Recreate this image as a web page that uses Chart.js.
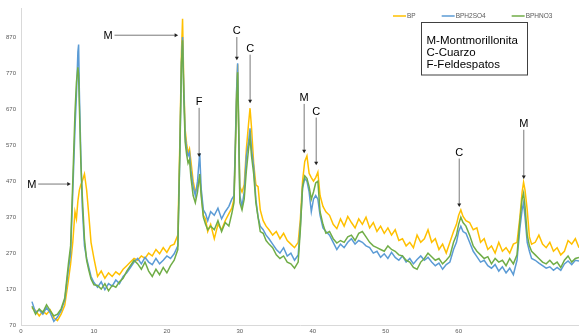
<!DOCTYPE html>
<html lang="es">
<head>
<meta charset="UTF-8">
<title>DRX BP / BPH2SO4 / BPHNO3</title>
<script src="https://cdn.jsdelivr.net/npm/chart.js"></script>
<style>
  html, body { margin: 0; padding: 0; background: #fff; }
  #wrap { width: 579px; height: 334px; position: relative; }
</style>
</head>
<body>
<div id="wrap"><canvas id="drx"></canvas></div>
<script>
// 2-theta (deg)
const angles = [
  1.5, 2, 2.5, 3, 3.5, 4, 4.5, 5, 5.5, 6, 6.5,
  6.8, 7.1, 7.4, 7.6, 7.8, 7.9, 8.0, 8.2, 8.4, 8.7, 9.0, 9.3, 9.6, 10.0,
  10.5, 11, 11.5, 12, 12.5, 13, 13.5, 14, 14.5, 15, 15.5, 16, 16.5, 17, 17.5, 18, 18.5, 19, 19.5, 20, 20.5, 21, 21.5,
  21.8, 22.0, 22.15, 22.3, 22.5, 22.7, 22.9, 23.1, 23.3, 23.6, 23.9, 24.2, 24.5, 24.7, 25.0, 25.3, 25.6, 26.0,
  26.5, 27, 27.5, 28, 28.5, 28.9,
  29.2, 29.4, 29.55, 29.7, 29.85, 30.0, 30.3, 30.6, 30.9, 31.2, 31.4, 31.6, 31.9, 32.2, 32.5, 32.8,
  33.2, 33.6, 34, 34.5, 35, 35.5, 36, 36.5, 37, 37.5, 38,
  38.3, 38.6, 38.9, 39.2, 39.5, 39.8, 40.1, 40.4, 40.7, 41.0, 41.4, 41.8,
  42.3, 42.8, 43.3, 43.8, 44.3, 44.8, 45.3, 45.8, 46.3, 46.8, 47.3, 47.8, 48.3, 48.8, 49.3, 49.8, 50.3, 50.8,
  51.3, 51.8, 52.3, 52.8, 53.3, 53.8, 54.3, 54.8, 55.3, 55.8, 56.3, 56.8, 57.3, 57.8, 58.3, 58.8, 59.3,
  59.7, 60.0, 60.3, 60.6, 61.0,
  61.5, 62, 62.5, 63, 63.5, 64, 64.5, 65, 65.5, 66, 66.5, 67, 67.5, 68,
  68.4, 68.7, 68.9, 69.1, 69.4, 69.7, 70.0,
  70.5, 71, 71.5, 72, 72.5, 73, 73.5, 74, 74.5, 75, 75.5, 76, 76.5
];

const bp = [
  118, 110, 95, 108, 100, 112, 90, 82, 100, 125, 195,
  240, 300, 385, 365, 415, 430, 445, 460, 470, 490, 445, 375, 300, 255,
  205, 220, 200, 215, 205, 218, 210, 225, 235, 245, 255, 250, 262, 255, 270, 262, 280, 268, 285, 272, 290, 295, 320,
  600, 830, 922, 760, 615, 575, 548, 560, 525, 470, 440, 455, 480, 440, 375, 365, 330, 350,
  310, 350, 335, 360, 380, 395,
  420, 580, 710, 795, 610, 455, 440, 460, 560, 630, 673, 620, 520, 460, 455, 390,
  360, 345, 335, 320, 330, 310, 325, 305, 295, 285, 300,
  365, 470, 525, 540, 492, 480, 470, 480, 495, 430, 400, 385,
  375, 350, 338, 365, 345, 372, 355, 340, 365, 350, 370, 340, 355, 330, 345, 325, 340, 320,
  335, 305, 310, 290, 300, 285, 320, 300, 310, 335, 300, 310, 280, 295, 270, 300, 330,
  350, 375, 390, 372, 360,
  355, 335, 340, 300, 310, 280, 290, 270, 300, 275, 285, 270, 295, 300,
  370, 440, 467, 445, 390, 315, 295,
  300, 320, 295, 285, 300, 275, 285, 265, 275, 305, 295, 310, 285
];

const bph2so4 = [
  135, 105, 112, 100, 118, 104, 80, 92, 110, 140, 225,
  268, 440, 615, 710, 830, 850, 720, 545, 400, 290, 255, 230, 205, 188,
  175, 190, 168, 185, 178, 195, 185, 205, 215, 230, 245, 255, 240, 258, 245, 238, 255, 240, 250, 262, 255, 268, 290,
  560, 800, 871, 740, 600, 560, 540, 550, 500, 455, 430, 470, 548, 450, 390, 380, 360, 385,
  375, 395, 365, 385, 400, 420,
  430, 590, 720, 798, 620, 430, 400, 440, 540, 580, 617, 560, 510, 420, 370, 345,
  335, 320, 310, 295, 280, 270, 285, 262, 270, 250, 265,
  345, 450, 478, 470, 440, 385, 420, 430, 420, 375, 340, 330,
  320, 300, 280, 295, 285, 300, 310, 295, 305, 300, 290, 285, 270, 275, 258, 268, 255, 272,
  258, 250, 262, 245, 255, 240, 252, 262, 250, 258, 245, 235, 242, 225, 238, 245, 280,
  300, 330, 345, 330, 325,
  300, 275, 260, 245, 250, 235, 228, 238, 220, 232, 215, 228, 210, 250,
  340, 390, 409, 370, 300, 275, 255,
  250, 242, 235, 228, 232, 222, 230, 222, 240, 248, 238, 250, 248
];

const bphno3 = [
  122, 100, 115, 105, 126, 110, 95, 100, 115, 145, 240,
  290, 470, 660, 745, 787, 765, 680, 525, 430, 310, 250, 222, 198, 182,
  180, 170, 185, 165, 180, 175, 190, 200, 220, 235, 250, 240, 225, 245, 220, 205, 225, 210, 230, 215, 235, 250, 280,
  580, 800, 862, 720, 580, 545, 520, 530, 480, 430, 410, 440, 490, 430, 370, 350, 335, 345,
  335, 360, 330, 355, 345, 380,
  410, 560, 690, 773, 600, 410, 390, 420, 500, 560, 592, 540, 490, 410, 370, 330,
  325, 305, 295, 285, 265, 255, 262, 245, 240, 228, 245,
  335, 455, 485, 478, 455, 420, 440, 465, 470, 385, 350, 325,
  330, 310, 298, 305, 300, 315, 320, 305, 325, 330, 315, 300, 290, 285, 280, 275, 290, 280,
  275, 265, 262, 250, 245, 230, 225, 245, 255, 270, 260, 250, 255, 240, 250, 262, 300,
  320, 350, 370, 355, 345,
  320, 290, 275, 265, 255, 260, 240, 255, 245, 250, 235, 255, 240, 265,
  360, 420, 437, 400, 320, 290, 275,
  265, 255, 245, 240, 250, 238, 245, 230, 250, 262, 245, 255, 258
];

const seriesNames = ['BP', 'BPH2SO4', 'BPHNO3'];
const seriesColors = ['#FFC000', '#5B9BD5', '#70AD47'];

const xTicks = [0, 10, 20, 30, 40, 50, 60];
const yTicks = [70, 170, 270, 370, 470, 570, 670, 770, 870];

// peak labels: letter, label position and arrow tip (2-theta, counts)
const peakLabels = [
  { t: 'M', x: 1.47, y: 462, tx: 6.82, ty: 462 },
  { t: 'M', x: 11.93, y: 876, tx: 21.54, ty: 876 },
  { t: 'C', x: 29.59, y: 889, tx: 29.59, ty: 806 },
  { t: 'C', x: 31.41, y: 840, tx: 31.41, ty: 687 },
  { t: 'F', x: 24.42, y: 692, tx: 24.42, ty: 537 },
  { t: 'M', x: 38.82, y: 703, tx: 38.82, ty: 548 },
  { t: 'C', x: 40.47, y: 665, tx: 40.47, ty: 514 },
  { t: 'C', x: 60.08, y: 551, tx: 60.08, ty: 398 },
  { t: 'M', x: 68.93, y: 631, tx: 68.93, ty: 476 }
];

const keyLines = ['M-Montmorillonita', 'C-Cuarzo', 'F-Feldespatos'];

const pts = vals => angles.map((a, i) => ({ x: a, y: vals[i] }));

const overlay = {
  id: 'overlay',
  afterDraw(chart) {
    const ctx = chart.ctx;
    const xs = chart.scales.x, ys = chart.scales.y;
    ctx.save();

    // legend
    ctx.font = '6.5px "Liberation Sans", Arial, sans-serif';
    ctx.textBaseline = 'middle';
    let lx = 393;
    seriesNames.forEach((name, i) => {
      ctx.strokeStyle = seriesColors[i];
      ctx.lineWidth = 1.5;
      ctx.beginPath();
      ctx.moveTo(lx, 16);
      ctx.lineTo(lx + 13, 16);
      ctx.stroke();
      ctx.fillStyle = '#595959';
      ctx.fillText(name, lx + 14, 16.5);
      lx += 14 + ctx.measureText(name).width + 26;
    });

    // key box
    ctx.strokeStyle = '#404040';
    ctx.lineWidth = 1;
    ctx.strokeRect(421.5, 22.5, 106, 52.5);
    ctx.fillStyle = '#000';
    ctx.font = '11.5px "Liberation Sans", Arial, sans-serif';
    keyLines.forEach((s, i) => ctx.fillText(s, 426.5, 40.5 + i * 12));

    // peak labels with arrows
    ctx.font = '11px "Liberation Sans", Arial, sans-serif';
    ctx.textAlign = 'center';
    peakLabels.forEach(p => {
      const px = xs.getPixelForValue(p.x), py = ys.getPixelForValue(p.y);
      const tx = xs.getPixelForValue(p.tx), ty = ys.getPixelForValue(p.ty);
      ctx.fillStyle = '#000';
      ctx.fillText(p.t, px, py + 0.5);
      const dx = tx - px, dy = ty - py;
      const len = Math.hypot(dx, dy), ux = dx / len, uy = dy / len;
      const sx = px + ux * 6.5, sy = py + uy * 6.5;
      ctx.strokeStyle = '#555';
      ctx.lineWidth = 0.8;
      ctx.beginPath();
      ctx.moveTo(sx, sy);
      ctx.lineTo(tx - ux * 3, ty - uy * 3);
      ctx.stroke();
      ctx.fillStyle = '#222';
      ctx.beginPath();
      ctx.moveTo(tx, ty);
      ctx.lineTo(tx - ux * 3.5 - uy * 2, ty - uy * 3.5 + ux * 2);
      ctx.lineTo(tx - ux * 3.5 + uy * 2, ty - uy * 3.5 - ux * 2);
      ctx.closePath();
      ctx.fill();
    });
    ctx.restore();
  }
};

const tickFont = { size: 6, family: '"Liberation Sans", Arial, sans-serif' };

new Chart(document.getElementById('drx'), {
  type: 'line',
  data: {
    datasets: [
      { label: seriesNames[0], data: pts(bp), borderColor: seriesColors[0], order: 2 },
      { label: seriesNames[1], data: pts(bph2so4), borderColor: seriesColors[1], order: 1 },
      { label: seriesNames[2], data: pts(bphno3), borderColor: seriesColors[2], order: 0 }
    ]
  },
  options: {
    responsive: true,
    maintainAspectRatio: false,
    animation: false,
    elements: {
      point: { radius: 0 },
      line: { borderWidth: 1.5, tension: 0 }
    },
    layout: { padding: { top: 8, right: 0, bottom: 0, left: 0 } },
    plugins: {
      legend: { display: false },
      tooltip: { enabled: false }
    },
    scales: {
      x: {
        type: 'linear',
        min: 0,
        max: 76.5,
        grid: { display: false, drawTicks: false },
        border: { display: true, color: '#d9d9d9', width: 1 },
        afterBuildTicks: s => { s.ticks = xTicks.map(v => ({ value: v })); },
        afterFit: s => { s.height = 9; },
        ticks: { padding: 3, maxRotation: 0, autoSkip: false, color: '#595959', font: tickFont }
      },
      y: {
        min: 70,
        max: 950,
        grid: { display: false, drawTicks: false },
        border: { display: true, color: '#d9d9d9', width: 1 },
        afterBuildTicks: s => { s.ticks = yTicks.map(v => ({ value: v })); },
        afterFit: s => { s.width = 21; },
        ticks: { padding: 5, autoSkip: false, color: '#595959', font: tickFont }
      }
    }
  },
  plugins: [overlay]
});
</script>
</body>
</html>
